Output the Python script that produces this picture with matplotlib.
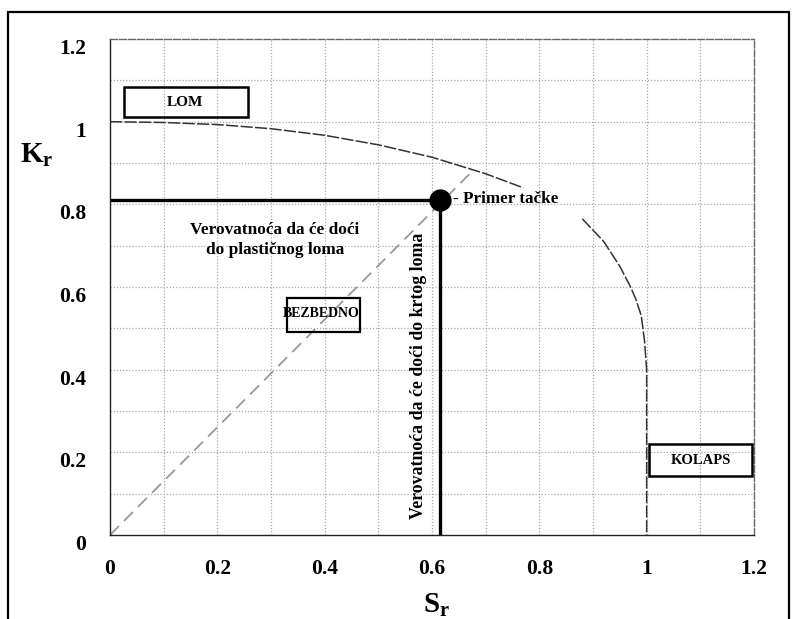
# Failure assessment diagram (Kr vs Sr) with an example point
import numpy as np
import matplotlib.pyplot as plt
from matplotlib.patches import Rectangle

plt.rcParams['font.family'] = ['Liberation Serif', 'DejaVu Serif']
plt.rcParams['mathtext.fontset'] = 'custom'
plt.rcParams['mathtext.rm'] = 'Liberation Serif:bold'
plt.rcParams['mathtext.it'] = 'Liberation Serif:bold'

# -----------------------------------------------------------
# Data
# -----------------------------------------------------------
# assessment curve, upper branch (broken where the label sits)
curve1_sr = [0.0, 0.1, 0.2, 0.3, 0.4, 0.5, 0.6, 0.7, 0.77]
curve1_kr = [1.0, 0.998, 0.993, 0.983, 0.967, 0.944, 0.914, 0.874, 0.84]
# lower branch down to the collapse limit
curve2_sr = [0.88, 0.92, 0.95, 0.97, 0.98, 0.99, 0.996, 1.0, 1.0]
curve2_kr = [0.765, 0.71, 0.65, 0.60, 0.57, 0.53, 0.47, 0.40, 0.0]

# load line through the example point
diag_sr = [0.0, 0.675]
diag_kr = [0.0, 0.88]

# example point
pt_sr = 0.615
pt_kr = 0.81

xticks = [0, 0.2, 0.4, 0.6, 0.8, 1, 1.2]
yticks = [0, 0.2, 0.4, 0.6, 0.8, 1, 1.2]
xtick_labels = ["0", "0.2", "0.4", "0.6", "0.8", "1", "1.2"]
ytick_labels = ["0", "0.2", "0.4", "0.6", "0.8", "1", "1.2"]
grid_steps = np.arange(0.1, 1.2, 0.1)

# -----------------------------------------------------------
# Figure
# -----------------------------------------------------------
W, H = 792, 619
fig = plt.figure(figsize=(W / 100, H / 100), dpi=100)
ax = fig.add_axes([110 / W, 1 - 535 / H, (754 - 110) / W, (535 - 39) / H])
ax.set_xlim(0, 1.2)
ax.set_ylim(0, 1.2)

# scanned-looking grid
for g in grid_steps:
    ax.axvline(g, color='#a8a8a8', ls=(0, (1, 1.5)), lw=0.9, zorder=0)
    ax.axhline(g, color='#a8a8a8', ls=(0, (1, 1.5)), lw=0.9, zorder=0)

for s in ['top', 'right']:
    ax.spines[s].set_color('#666666')
    ax.spines[s].set_linestyle((0, (5, 1.5)))
    ax.spines[s].set_linewidth(1.0)
for s in ['left', 'bottom']:
    ax.spines[s].set_color('#222222')
    ax.spines[s].set_linewidth(1.0)

# curve
ax.plot(curve1_sr, curve1_kr, color='#333333', lw=1.1, ls=(0, (8, 1.5)))
ax.plot(curve2_sr, curve2_kr, color='#333333', lw=1.1, ls=(0, (8, 1.5)))

# load line
ax.plot(diag_sr, diag_kr, color='#999999', lw=1.3, ls=(0, (7, 4)))

# thick projections of the point
ax.plot([0, pt_sr], [pt_kr, pt_kr], color='black', lw=2.4, solid_capstyle='butt')
ax.plot([pt_sr, pt_sr], [pt_kr, 0], color='black', lw=2.4, solid_capstyle='butt')
ax.plot(pt_sr, pt_kr, 'o', color='black', ms=15, zorder=5)

ax.set_xticks(xticks)
ax.set_xticklabels(xtick_labels)
ax.set_yticks(yticks)
ax.set_yticklabels(ytick_labels)
ax.tick_params(length=0, labelsize=15.5)
ax.tick_params(axis='x', pad=17)
ax.tick_params(axis='y', pad=17)
for lab in ax.get_xticklabels() + ax.get_yticklabels():
    lab.set_fontweight('bold')
for lab in ax.get_yticklabels():
    lab.set_verticalalignment('top')

# -----------------------------------------------------------
# Annotations
# -----------------------------------------------------------
def px(x, y):
    return (x - 110) / 537.0, (535 - y) / 413.3

def box(x0, y0, x1, y1, lw=1.8):
    (a, b), (c, d) = px(x0, y0), px(x1, y1)
    ax.add_patch(Rectangle((a, d), c - a, b - d, fill=False, ec='black',
                           lw=lw, zorder=4, clip_on=False))

box(124, 87, 248, 117)
ax.text(*px(185, 103), "LOM", ha='center', va='center', fontsize=11, fontweight='bold')

box(287, 298, 360, 332, lw=1.6)
ax.text(*px(321, 314), "BEZBEDNO", ha='center', va='center', fontsize=10, fontweight='bold')

box(649, 444, 752, 476)
ax.text(*px(701, 461), "KOLAPS", ha='center', va='center', fontsize=10.5, fontweight='bold')

ax.text(*px(453, 199), "- Primer tačke", ha='left', va='center', fontsize=12.3, fontweight='bold')
ax.text(*px(275, 240), "Verovatnoća da će doći\ndo plastičnog loma", ha='center', va='center',
        fontsize=12.4, fontweight='bold', linespacing=1.3)
ax.text(*px(419, 376), "Verovatnoća da će doći do krtog loma", ha='center', va='center',
        rotation=90, fontsize=12.8, fontweight='bold')

fig.text(37 / W, 1 - 155 / H, r"$\mathrm{K_r}$", ha='center', va='center', fontsize=21)
fig.text(437 / W, 1 - 605 / H, r"$\mathrm{S_r}$", ha='center', va='center', fontsize=21)

# outer frame of the scanned page
fig.patches.append(Rectangle((8 / W, -0.05), (789 - 8) / W, 1.05 - 12 / H, fill=False,
                             ec='black', lw=1.6, transform=fig.transFigure))

fig.savefig("out.png", dpi=100)
